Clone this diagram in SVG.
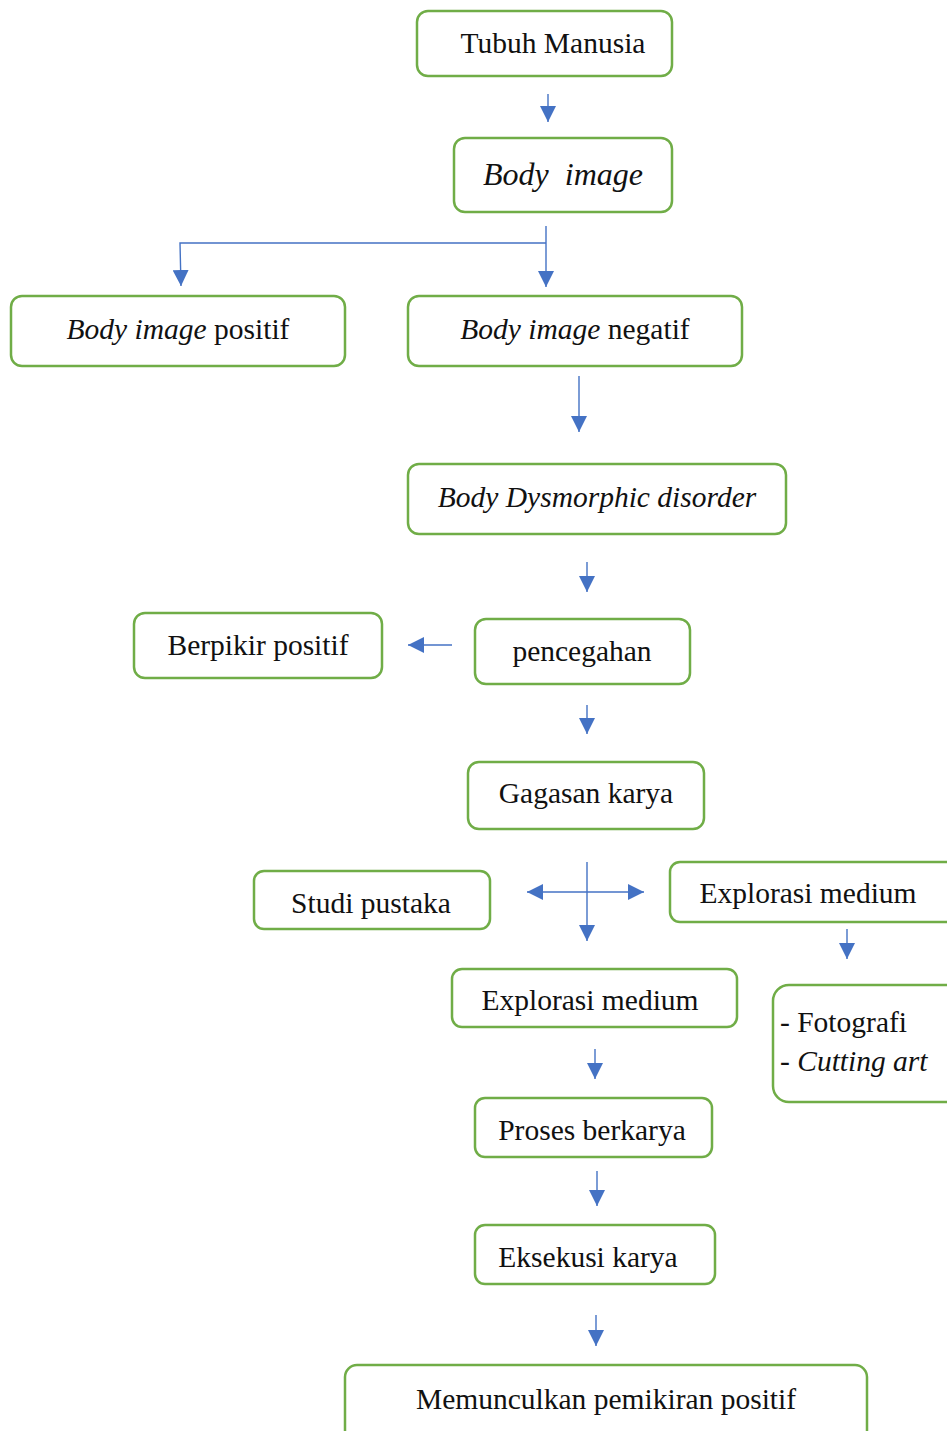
<svg xmlns="http://www.w3.org/2000/svg" width="947" height="1431" viewBox="0 0 947 1431">
<style>
.box{fill:#fff;stroke:#70AD47;stroke-width:2.5}
.t{font-family:"Liberation Serif","Times New Roman",serif;font-size:29.5px;fill:#111;text-anchor:middle}
.i{font-style:italic}
.c{fill:none;stroke:#4472C4;stroke-width:1.4}
</style>
<defs>
<marker id="ah" markerUnits="userSpaceOnUse" markerWidth="16" markerHeight="16" viewBox="0 0 14 14" refX="14" refY="7" orient="auto">
<path d="M0,0 L14,7 L0,14 Z" fill="#4472C4"/>
</marker>
<marker id="ahs" markerUnits="userSpaceOnUse" markerWidth="16" markerHeight="16" viewBox="0 0 14 14" refX="14" refY="7" orient="auto-start-reverse">
<path d="M0,0 L14,7 L0,14 Z" fill="#4472C4"/>
</marker>
</defs>
<rect width="947" height="1431" fill="#fff"/>
<g id="connectors">
<line class="c" x1="548" y1="94" x2="548" y2="122" marker-end="url(#ah)"/>
<line class="c" x1="546" y1="226" x2="546" y2="287" marker-end="url(#ah)"/>
<polyline class="c" points="546,243 180,243 181,286" marker-end="url(#ah)"/>
<line class="c" x1="579" y1="376" x2="579" y2="432" marker-end="url(#ah)"/>
<line class="c" x1="587" y1="562" x2="587" y2="592" marker-end="url(#ah)"/>
<line class="c" x1="452" y1="645" x2="408" y2="645" marker-end="url(#ah)"/>
<line class="c" x1="587" y1="705" x2="587" y2="734" marker-end="url(#ah)"/>
<line class="c" x1="587" y1="862" x2="587" y2="941" marker-end="url(#ah)"/>
<line class="c" x1="527" y1="892" x2="644" y2="892" marker-start="url(#ahs)" marker-end="url(#ah)"/>
<line class="c" x1="847" y1="929" x2="847" y2="959" marker-end="url(#ah)"/>
<line class="c" x1="595" y1="1049" x2="595" y2="1079" marker-end="url(#ah)"/>
<line class="c" x1="597" y1="1171" x2="597" y2="1206" marker-end="url(#ah)"/>
<line class="c" x1="596" y1="1315" x2="596" y2="1346" marker-end="url(#ah)"/>
</g>
<g id="n1"><rect class="box" x="417" y="11" width="255" height="65" rx="11"/><text class="t" x="553" y="53">Tubuh Manusia</text></g>
<g id="n2"><rect class="box" x="454" y="138" width="218" height="74" rx="11"/><text class="t i" x="563" y="185" style="font-size:32px" xml:space="preserve">Body  image</text></g>
<g id="n3"><rect class="box" x="11" y="296" width="334" height="70" rx="11"/><text class="t" x="178" y="339"><tspan class="i">Body image</tspan> positif</text></g>
<g id="n4"><rect class="box" x="408" y="296" width="334" height="70" rx="11"/><text class="t" x="575" y="339"><tspan class="i">Body image</tspan> negatif</text></g>
<g id="n5"><rect class="box" x="408" y="464" width="378" height="70" rx="11"/><text class="t i" x="597" y="507">Body Dysmorphic disorder</text></g>
<g id="n6"><rect class="box" x="475" y="619" width="215" height="65" rx="11"/><text class="t" x="582" y="661">pencegahan</text></g>
<g id="n7"><rect class="box" x="134" y="613" width="248" height="65" rx="11"/><text class="t" x="258" y="655">Berpikir positif</text></g>
<g id="n8"><rect class="box" x="468" y="762" width="236" height="67" rx="11"/><text class="t" x="586" y="803">Gagasan karya</text></g>
<g id="n9"><rect class="box" x="254" y="871" width="236" height="58" rx="10"/><text class="t" x="371" y="913">Studi pustaka</text></g>
<g id="n10"><rect class="box" x="670" y="862" width="292" height="60" rx="10"/><text class="t" x="808" y="903">Explorasi medium</text></g>
<g id="n11"><rect class="box" x="452" y="969" width="285" height="58" rx="10"/><text class="t" x="590" y="1010">Explorasi medium</text></g>
<g id="n12"><rect class="box" x="773" y="985" width="190" height="117" rx="16"/>
<text class="t" x="780" y="1032" style="text-anchor:start">- Fotografi</text>
<text class="t" x="780" y="1071" style="text-anchor:start">- <tspan class="i">Cutting art</tspan></text></g>
<g id="n13"><rect class="box" x="475" y="1098" width="237" height="59" rx="10"/><text class="t" x="592" y="1140">Proses berkarya</text></g>
<g id="n14"><rect class="box" x="475" y="1225" width="240" height="59" rx="10"/><text class="t" x="588" y="1267">Eksekusi karya</text></g>
<g id="n15"><rect class="box" x="345" y="1365" width="522" height="80" rx="12"/><text class="t" x="606" y="1409">Memunculkan pemikiran positif</text></g>
</svg>
